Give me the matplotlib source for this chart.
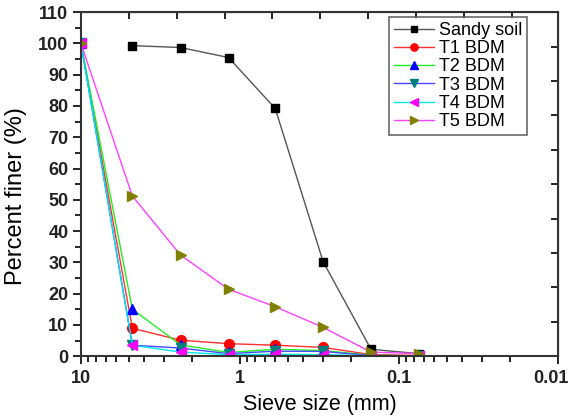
import matplotlib.pyplot as plt
import matplotlib.transforms as mtransforms
import numpy as np
from matplotlib.ticker import FixedLocator, NullFormatter, LogLocator

plt.rcParams['font.family'] = ['Liberation Sans', 'DejaVu Sans']

# sieve sizes (mm)
sieve_t = [10, 4.75, 2.36, 1.18, 0.6, 0.3, 0.15, 0.075]
sieve_sand = [4.75, 2.36, 1.18, 0.6, 0.3, 0.15, 0.075]

sandy_soil = [99.3, 98.7, 95.5, 79.2, 30.2, 2.2, 0.8]
t1_bdm = [100, 8.9, 5.1, 4.0, 3.5, 2.8, 0.5, 0.2]
t2_bdm = [100, 15.0, 3.6, 1.2, 2.2, 1.8, 0.3, 0.1]
t3_bdm = [100, 3.5, 2.6, 0.8, 1.6, 1.5, 0.2, 0.1]
t4_bdm = [100, 3.5, 1.3, 0.5, 0.6, 0.5, 0.1, 0.0]
t5_bdm = [100, 51.2, 32.3, 21.4, 15.8, 9.2, 1.3, 0.8]

labels = ["Sandy soil", "T1 BDM", "T2 BDM", "T3 BDM", "T4 BDM", "T5 BDM"]
x_ticks = [10, 1, 0.1, 0.01]
x_tick_labels = ["10", "1", "0.1", "0.01"]


def main():
    fig = plt.figure(figsize=(5.7, 4.2), dpi=100)
    ax = fig.add_axes([0.142, 0.152, 0.837, 0.819])

    ax.plot(sieve_sand, sandy_soil, '-', color='#555555', lw=1.0,
            marker='s', ms=6, mfc='black', mec='black', label=labels[0])
    series = [
        (t1_bdm, '#ff3030', 'o', '#ff0000'),
        (t2_bdm, '#22ee22', '^', '#0000ff'),
        (t3_bdm, '#4848ff', 'v', '#007f7f'),
        (t4_bdm, '#00e5ee', '<', '#ff00ff'),
        (t5_bdm, '#ff40ff', '>', '#808000'),
    ]
    for (vals, lc, mk, mc), lab in zip(series, labels[1:]):
        ax.plot(sieve_t, vals, '-', color=lc, lw=1.0, marker=mk, ms=7,
                mfc=mc, mec=mc, label=lab)

    ax.set_xscale('log')
    ax.set_xlim(10, 0.01)
    ax.set_ylim(0, 110)
    ax.set_xticks(x_ticks)
    ax.set_xticklabels(x_tick_labels)
    ax.xaxis.set_minor_locator(LogLocator(base=10, subs=np.arange(2, 10)))
    ax.xaxis.set_minor_formatter(NullFormatter())
    ax.set_yticks(np.arange(0, 111, 10))
    ax.yaxis.set_minor_locator(FixedLocator(np.arange(5, 110, 10)))

    ax.tick_params(axis='both', which='major', direction='out', length=6,
                   width=1.2, labelsize=13, pad=3)
    ax.tick_params(axis='both', which='minor', direction='out', length=4,
                   width=1.2)
    ax.tick_params(axis='x', which='major', pad=4)
    for lab in ax.get_xticklabels() + ax.get_yticklabels():
        lab.set_fontweight('bold')
        lab.set_color('#222222')
    # keep "0.01" inside the figure
    last = ax.get_xticklabels()[-1]
    last.set_horizontalalignment('right')
    last.set_transform(last.get_transform() + mtransforms.ScaledTranslation(
        11 / 100, 0, fig.dpi_scale_trans))
    for sp in ax.spines.values():
        sp.set_linewidth(1.5)
        sp.set_color('#333333')

    # top and right axes with inward ticks
    top = ax.secondary_xaxis('top')
    top.set_xticks([10 / 2 ** n for n in range(1, 10)])
    top.xaxis.set_minor_locator(FixedLocator([]))
    top.tick_params(direction='in', length=5, width=1.2, labeltop=False)
    right = ax.secondary_yaxis('right')
    right.set_yticks(np.arange(0, 111, 11))
    right.yaxis.set_minor_locator(FixedLocator([]))
    right.tick_params(direction='in', length=5, width=1.2, labelright=False)

    ax.set_xlabel("Sieve size (mm)", fontsize=15.5, labelpad=5)
    ax.set_ylabel("Percent finer (%)", fontsize=17)
    ax.yaxis.set_label_coords(-0.113, 0.465)

    leg = ax.legend(loc='upper right', bbox_to_anchor=(0.935, 0.985),
                    borderaxespad=0, fontsize=13, frameon=True,
                    fancybox=False, edgecolor='#444444', handlelength=2.2,
                    handletextpad=0.3, labelspacing=0.07, borderpad=0.25,
                    markerscale=0.75)
    leg.get_frame().set_linewidth(1.2)

    plt.savefig("out.png", dpi=100)
    plt.close()


if __name__ == "__main__":
    main()
